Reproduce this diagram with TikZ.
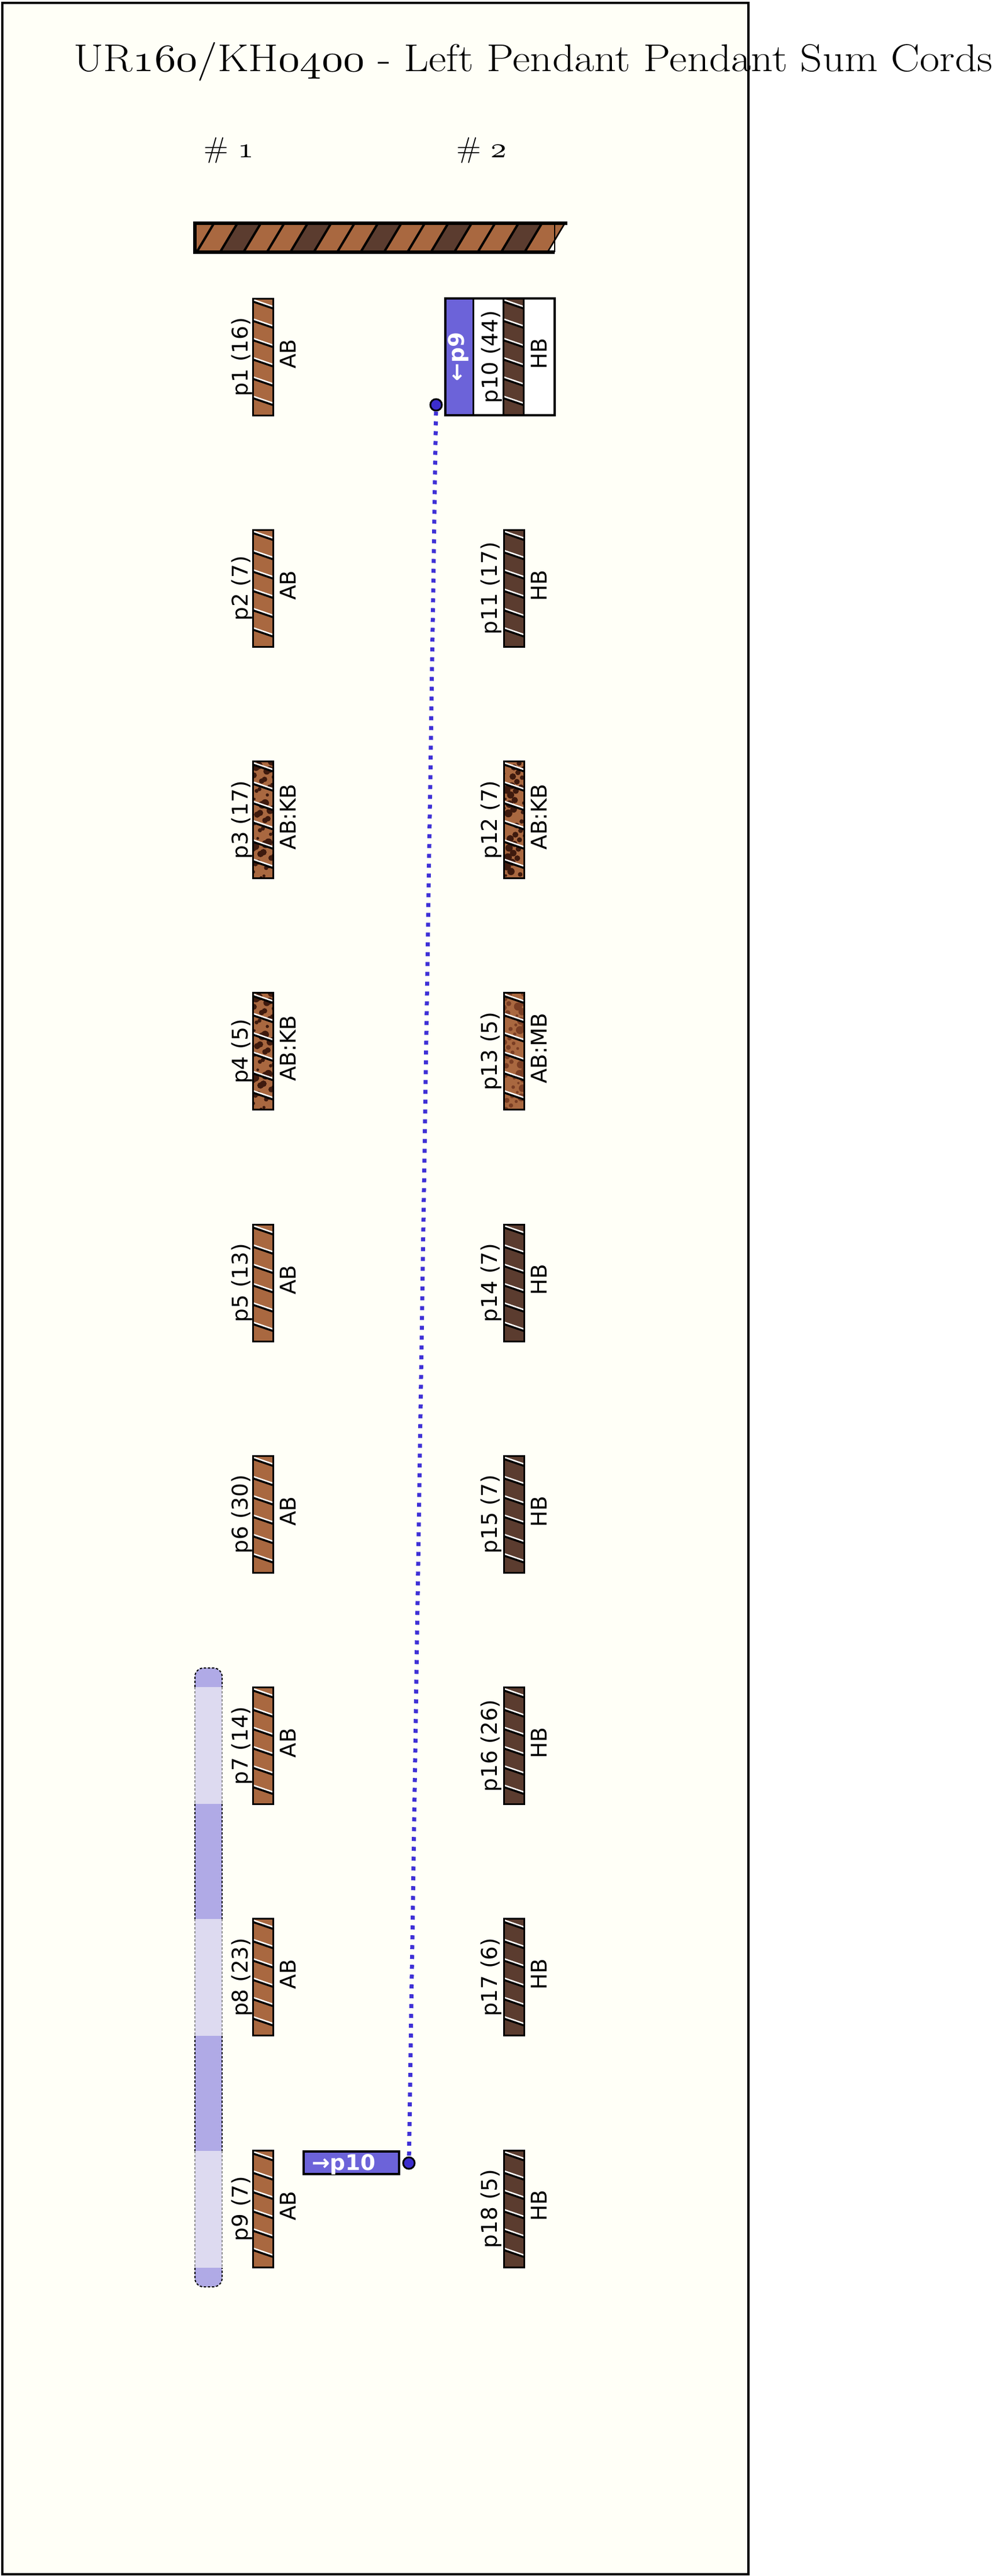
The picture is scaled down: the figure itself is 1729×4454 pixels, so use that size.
\documentclass[tikz,border=0pt]{standalone}
\usepackage{graphicx}
\usepackage{fontspec}
\newfontfamily\lbl{DejaVu Sans}
\newfontfamily\lblb{DejaVu Sans Bold}
\definecolor{ivory}{RGB}{255,255,247}
\definecolor{abrown}{RGB}{169,104,64}
\definecolor{hbrown}{RGB}{91,60,47}
\definecolor{kspot}{RGB}{62,26,14}
\definecolor{mspot}{RGB}{122,62,36}
\definecolor{blueb}{RGB}{108,99,217}
\definecolor{linkblue}{RGB}{62,48,214}
\definecolor{dotblue}{RGB}{60,45,205}
\definecolor{stripd}{RGB}{176,170,230}
\definecolor{stripl}{RGB}{221,218,240}
\definecolor{dashgray}{RGB}{140,140,140}
\newcommand\osn[2]{\scalebox{#1}{\fontsize{10}{12}\usefont{OML}{cmm}{m}{it}#2}}
\def\nospot{none}
\newcommand\cordfill[5]{%
  \begin{scope}
    \clip (#1,#2) rectangle ++(35,202);
    \fill[#3] (#1,#2) rectangle ++(35,202);
    \edef\spotcol{#4}%
    \ifx\spotcol\nospot\else
      \foreach \i in {1,...,46}{%
        \pgfmathsetmacro\sx{#1+mod(\i*17.3+#5*7.1,41)-3}%
        \pgfmathsetmacro\sy{#2+mod(\i*61.7+#5*13.3,208)-3}%
        \pgfmathsetmacro\sr{2+mod(\i*2.9+#5*1.7,5)}%
        \fill[\spotcol] (\sx,\sy) circle (\sr pt);}
    \fi
    \foreach \k in {0,...,5}{%
      \draw[black,line width=4pt] (#1,#2+5+33.4*\k) -- ++(35,12);
      \draw[white,line width=2.5pt] (#1,#2+2+33.4*\k) -- ++(35,12);}
  \end{scope}
  \draw[line width=3pt] (#1,#2) rectangle ++(35,202);}
\tikzset{
  lab/.style={inner sep=0pt, font=\lbl\fontsize{37.4}{40}\selectfont},
  plabel/.style={lab, rotate=90, anchor=base},
  tlabel/.style={lab, rotate=90, anchor=base},
  wlabel/.style={inner sep=0pt, text=white, font=\lblb\fontsize{37.4}{40}\selectfont},
  titlestyle/.style={inner sep=0pt, anchor=base west, font=\fontsize{67}{70}\selectfont},
  headstyle/.style={inner sep=0pt, anchor=base, font=\fontsize{50}{54}\selectfont},
  dotnode/.style={circle, fill=dotblue, draw=black, line width=3pt, minimum size=20pt, inner sep=0pt},
  link/.style={linkblue, line width=7pt, dash pattern=on 7pt off 10pt},
  stripedge/.style={line width=2pt, dash pattern=on 4pt off 3pt}
}
\begin{document}
\begin{tikzpicture}[x=1pt,y=-1pt]
\useasboundingbox (0,0) rectangle (1729,4454);
\fill[white] (0,0) rectangle (1729,4454);
\filldraw[fill=ivory, draw=black, line width=3.5pt] (4,5) rectangle (1294,4451);

% title and headers
\node[titlestyle] (title) at (127,123) {\scalebox{1.115}[1]{UR\osn{6.7}{160}/KH\osn{6.7}{0400} - Left Pendant Pendant Sum Cords}};
\node[headstyle] (h1) at (396,272) {\scalebox{1.1}[1]{\# \osn{5}{1}}};
\node[headstyle] (h2) at (833,272) {\scalebox{1.1}[1]{\# \osn{5}{2}}};

% main cord
\begin{scope}
  \clip (337,386) -- (978,386) -- (948,436) -- (337,436) -- cycle;
  \foreach \k in {-2,...,15}{%
    \pgfmathtruncatemacro\m{mod(\k+30,3)}%
    \ifnum\m=1 \def\bc{hbrown}\else\def\bc{abrown}\fi
    \fill[\bc] (370+40.5*\k,386) -- (410.5+40.5*\k,386) -- (380.5+40.5*\k,436) -- (340+40.5*\k,436) -- cycle;}
  \foreach \k in {-1,...,15}{%
    \draw[line width=4pt] (370+40.5*\k,386) -- ++(-30,50);}
\end{scope}
\draw[line width=6pt] (981,386) -- (337,386) -- (337,436) -- (959,436);
\draw[line width=2pt] (959,386) -- (959,436);

% grouping strip
\fill[stripd] (337,2917) [rounded corners=15pt] -- (337,2884) -- (384,2884) [sharp corners] -- (384,2917) -- cycle;
\draw[stripedge] (337,2917) [rounded corners=15pt] -- (337,2884) -- (384,2884) [sharp corners] -- (384,2917);
\foreach \a/\b/\c/\e in {2917/3118.5/stripl/dashgray, 3118.5/3318/stripd/black, 3318/3520/stripl/dashgray, 3520/3718.5/stripd/black, 3718.5/3921/stripl/dashgray}{%
  \fill[\c] (337,\a) rectangle (384,\b);
  \draw[stripedge, \e] (337,\a) -- (337,\b);
  \draw[stripedge, \e] (384,\a) -- (384,\b);}
\fill[stripd] (337,3921) [rounded corners=15pt] -- (337,3954) -- (384,3954) [sharp corners] -- (384,3921) -- cycle;
\draw[stripedge] (337,3921) [rounded corners=15pt] -- (337,3954) -- (384,3954) [sharp corners] -- (384,3921);

% column 1 pendants
\foreach \i/\lab/\typ/\base/\spot in {1/p1 (16)/AB/abrown/none, 2/p2 (7)/AB/abrown/none, 3/p3 (17)/AB:KB/abrown/kspot, 4/p4 (5)/AB:KB/abrown/kspot, 5/p5 (13)/AB/abrown/none, 6/p6 (30)/AB/abrown/none, 7/p7 (14)/AB/abrown/none, 8/p8 (23)/AB/abrown/none, 9/p9 (7)/AB/abrown/none}{%
  \pgfmathsetmacro\T{516+(\i-1)*400.25}%
  \cordfill{437}{\T}{\base}{\spot}{\i}
  \node[plabel] (pl\i) at (428,\T+101) {\lab};
  \node[tlabel] (tl\i) at (511,\T+96) {\typ};}

% column 2 pendants
\foreach \i/\n/\lab/\typ/\base/\spot in {2/11/p11 (17)/HB/hbrown/none, 3/12/p12 (7)/AB:KB/abrown/kspot, 4/13/p13 (5)/AB:MB/abrown/mspot, 5/14/p14 (7)/HB/hbrown/none, 6/15/p15 (7)/HB/hbrown/none, 7/16/p16 (26)/HB/hbrown/none, 8/17/p17 (6)/HB/hbrown/none, 9/18/p18 (5)/HB/hbrown/none}{%
  \pgfmathsetmacro\T{516+(\i-1)*400.25}%
  \cordfill{871}{\T}{\base}{\spot}{\n}
  \node[plabel] (pl\n) at (859,\T+101) {\lab};
  \node[tlabel] (tl\n) at (945,\T+96) {\typ};}

% p10 group
\fill[blueb] (770,516) rectangle (818,718);
\fill[white] (818,516) rectangle (869,718);
\fill[white] (906,516) rectangle (959,718);
\cordfill{870}{516}{hbrown}{none}{10}
\draw[line width=3pt] (818,516) -- (818,718);
\draw[line width=4pt] (770,516) rectangle (959,718);
\node[wlabel, rotate=90, anchor=base] (g9) at (802,617) {←p9};
\node[plabel] (pl10) at (860,617) {p10 (44)};
\node[tlabel] (tl10) at (945,612) {HB};

% reference box at p9
\node[draw=black, line width=4pt, fill=blueb, minimum width=165pt, minimum height=39pt, inner sep=0pt] (r10) at (607.5,3739.5) {};
\node[wlabel, anchor=base west] (r10t) at (539,3752) {→p10};

% sum link
\node[dotnode] (d1) at (754,700) {};
\node[dotnode] (d2) at (707,3740) {};
\draw[link] (d1) -- (d2);
\end{tikzpicture}
\end{document}
